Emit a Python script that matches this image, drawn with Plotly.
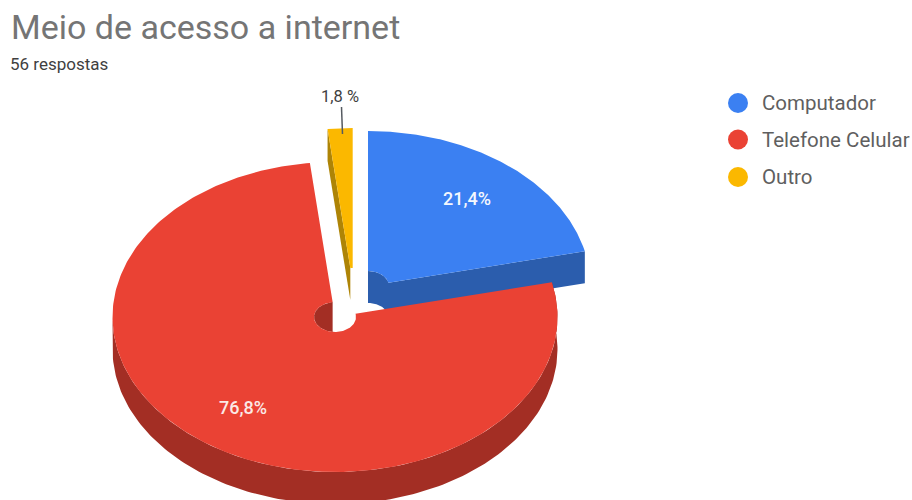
import numpy as np
import plotly.graph_objects as go

# Survey results
categories = ["Computador", "Telefone Celular", "Outro"]
percentages = [21.4, 76.8, 1.8]
value_labels = ["21,4%", "76,8%", "1,8 %"]

title_text = "Meio de acesso a internet"
subtitle_text = "56 respostas"

top_colors = ["#3B80F2", "#EA4234", "#FBB800"]
side_colors = ["#2B5DAD", "#A32E24", "#AE8406"]

# Pseudo-3D pie geometry, in page pixels
RX, RY = 222.5, 155.0
HOLE_RX, HOLE_RY = 21.0, 15.0
DEPTH = 32.0
centers = [(368.0, 286.0), (335.0, 317.0), (352.7, 283.0)]


def arc(cx, cy, rx, ry, start, end, n=160):
    """Points along an ellipse; angles in degrees, clockwise from 12 o'clock."""
    t = np.radians(np.linspace(start, end, n))
    return cx + rx * np.sin(t), cy - ry * np.cos(t)


def polygon(name, xs, ys, color):
    return go.Scatter(
        x=np.concatenate(xs), y=np.concatenate(ys), mode="lines", fill="toself",
        fillcolor=color, line=dict(width=0, color=color), hoverinfo="skip",
        name=name, showlegend=False,
    )


# Slice start and end angles follow from the percentages
ends = np.cumsum(percentages) * 3.6
starts = np.concatenate(([0.0], ends[:-1]))

fig = go.Figure()

# Computador: cut face and inner wall, then the top surface
cx, cy = centers[0]
a0, a1 = starts[0], ends[0]
ix, iy = arc(cx, cy, HOLE_RX, HOLE_RY, a0, a1)
ox, oy = arc(cx, cy, RX, RY, a1, a1, 2)
fig.add_trace(polygon("computador-lado",
                      [ix, ox, ox[::-1], ix[::-1]],
                      [iy, oy, oy[::-1] + DEPTH, iy[::-1] + DEPTH], side_colors[0]))
ox, oy = arc(cx, cy, RX, RY, a0, a1)
ix, iy = arc(cx, cy, HOLE_RX, HOLE_RY, a1, a0)
fig.add_trace(polygon("computador-topo", [ox, ix], [oy, iy], top_colors[0]))

# Outro: thin slice with its cut face showing on the left
cx, cy = centers[2]
a0, a1 = starts[2], ends[2]
ox, oy = arc(cx, cy, RX, RY, a0, a0, 2)
ix, iy = arc(cx, cy, HOLE_RX, HOLE_RY, a0, a0, 2)
fig.add_trace(polygon("outro-lado",
                      [ox, ix, ix + 0, ox],
                      [oy, iy, iy + DEPTH, oy + DEPTH], side_colors[2]))
ox, oy = arc(cx, cy, RX, RY, a0, a1)
ix, iy = arc(cx, cy, HOLE_RX, HOLE_RY, a1, a0)
fig.add_trace(polygon("outro-topo", [ox, ix], [oy, iy], top_colors[2]))

# Telefone Celular: outer wall, back wall of the hole, then the top surface
cx, cy = centers[1]
a0, a1 = starts[1], ends[1]
wx, wy = arc(cx, cy, RX, RY, a0, 270.0)
fig.add_trace(polygon("celular-lado", [wx, wx[::-1]], [wy, wy[::-1] + DEPTH], side_colors[1]))
hx, hy = arc(cx, cy, HOLE_RX, HOLE_RY, 540.0 - a1, a1)
fig.add_trace(polygon("celular-furo", [hx], [hy], side_colors[1]))
ox, oy = arc(cx, cy, RX, RY, a0, a1, 300)
ix, iy = arc(cx, cy, HOLE_RX, HOLE_RY, a1, a0, 120)
fig.add_trace(polygon("celular-topo", [ox, ix], [oy, iy], top_colors[1]))

# Leader line for the small slice
fig.add_trace(go.Scatter(x=[341.5, 342.5], y=[107.0, 134.0], mode="lines",
                         line=dict(color="#555a60", width=1.5),
                         hoverinfo="skip", showlegend=False))

# Legend column
legend_rows = [103.0, 139.5, 177.0]
fig.add_trace(go.Scatter(x=[738.0] * 3, y=legend_rows, mode="markers",
                         marker=dict(size=20, color=top_colors, line=dict(width=0)),
                         hoverinfo="skip", showlegend=False))

annotations = [
    dict(x=9, y=27, text=title_text, xanchor="left", font=dict(size=34, color="#757575")),
    dict(x=8, y=64, text=subtitle_text, xanchor="left", font=dict(size=17, color="#3f3f3f")),
    dict(x=467, y=198, text=value_labels[0], font=dict(size=18, weight=500, color="#f4f7fd")),
    dict(x=243, y=407, text=value_labels[1], font=dict(size=18, weight=500, color="#fbe9e6")),
    dict(x=340, y=96, text=value_labels[2], font=dict(size=16.5, color="#3f3f3f")),
]
for label, row in zip(categories, legend_rows):
    annotations.append(dict(x=760, y=row, text=label, xanchor="left",
                            font=dict(size=20.5, color="#5f5f5f")))
for a in annotations:
    a.update(xref="x", yref="y", showarrow=False, yanchor="middle",
             xanchor=a.get("xanchor", "center"))
    a["font"]["family"] = "Roboto, Arial, sans-serif"

fig.update_layout(
    width=912, height=500, margin=dict(l=0, r=0, t=0, b=0),
    paper_bgcolor="white", plot_bgcolor="white", showlegend=False,
    xaxis=dict(range=[0, 912], visible=False, fixedrange=True),
    yaxis=dict(range=[500, 0], visible=False, fixedrange=True),
    annotations=annotations,
)
fig.write_html("out.html", config=dict(displayModeBar=False))
